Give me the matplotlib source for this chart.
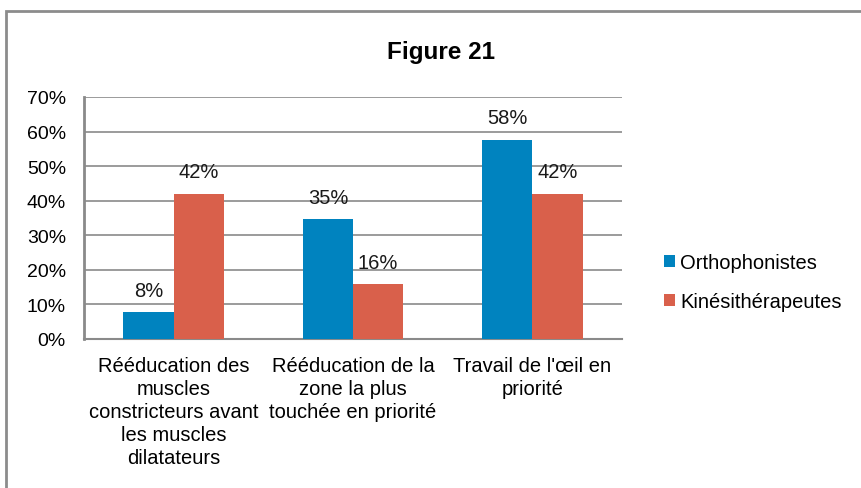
import numpy as np
import matplotlib
matplotlib.use("Agg")
import matplotlib.pyplot as plt
from matplotlib.patches import Rectangle

plt.rcParams['font.family'] = ['Liberation Sans', 'DejaVu Sans']

categories = ["Rééducation des\nmuscles\nconstricteurs avant\nles muscles\ndilatateurs",
              "Rééducation de la\nzone la plus\ntouchée en priorité",
              "Travail de l'œil en\npriorité"]
ortho = [0.077, 0.346, 0.577]
kine = [0.42, 0.158, 0.42]
series_names = ["Orthophonistes", "Kinésithérapeutes"]
colors = ["#0083BF", "#D9604B"]

fig = plt.figure(figsize=(8.62, 4.89), dpi=100)
W, H = 862, 489
ax = fig.add_axes([84 / W, 1 - 340 / H, (622 - 84) / W, (340 - 98) / H])

# outer frame of the chart area
fig.patches.append(Rectangle((6 / W, -0.1), 1.2, 1 - 12 / H + 0.1, transform=fig.transFigure,
                             fill=False, edgecolor="#8c8c8c", linewidth=2))

x = np.arange(len(categories))
bw = 0.28
b1 = ax.bar(x - bw / 2, ortho, bw, color=colors[0], label=series_names[0], zorder=3)
b2 = ax.bar(x + bw / 2, kine, bw, color=colors[1], label=series_names[1], zorder=3)

for bars, vals in [(b1, ortho), (b2, kine)]:
    for r, v in zip(bars, vals):
        ax.annotate("{:.0%}".format(v), (r.get_x() + r.get_width() / 2, v),
                    xytext=(0, 16), textcoords="offset points",
                    ha="center", va="center", fontsize=14.5, color="#1a1a1a")

ax.set_xlim(-0.5, 2.5)
ax.set_ylim(0, 0.7)
ax.set_yticks(np.arange(0, 0.71, 0.1))
ax.set_yticklabels(["{:.0%}".format(t) for t in np.arange(0, 0.71, 0.1)], fontsize=14)
ax.set_xticks(x)
ax.set_xticklabels(categories, fontsize=14.5, linespacing=1.28, va="top")
ax.tick_params(axis="y", length=0, pad=13)
ax.tick_params(axis="x", length=0, pad=12)
ax.yaxis.grid(True, color="#8a8a8a", linewidth=1.2, zorder=0)
ax.set_axisbelow(True)
for s in ["top", "right"]:
    ax.spines[s].set_visible(False)
ax.spines["left"].set_color("#8a8a8a")
ax.spines["left"].set_linewidth(2)
ax.spines["bottom"].set_color("#8a8a8a")
ax.spines["bottom"].set_linewidth(1.5)

fig.text(441 / W, 1 - 52 / H, "Figure 21", ha="center", va="center",
         fontsize=17.5, fontweight="bold")

ax.legend(loc="center left", bbox_to_anchor=(664 / W, 1 - 283 / H),
          bbox_transform=fig.transFigure, frameon=False, fontsize=14.5,
          handlelength=0.55, handleheight=0.55, handletextpad=0.25, labelspacing=1.0,
          borderaxespad=0, borderpad=0)

fig.savefig("out.png", dpi=100)
